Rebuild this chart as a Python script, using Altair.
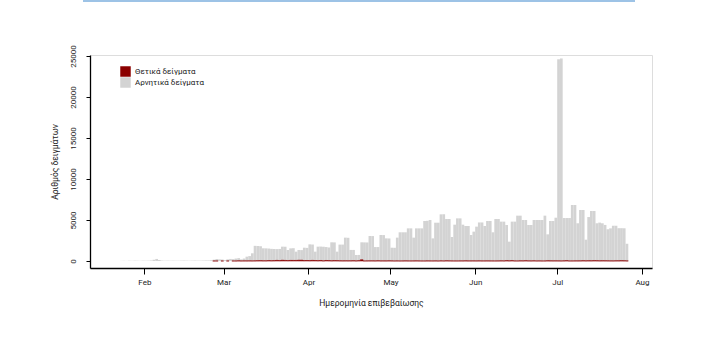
import altair as alt
import pandas as pd

# ---- data (daily, starting 2020-01-21) ----
start_date = "2020-01-21"
pos_label = "Θετικά δείγματα"
neg_label = "Αρνητικά δείγματα"

total_jan = [0, 0, 10, 20, 10, 30, 20, 40, 30, 20, 40]
total_feb = [30, 40, 60, 150, 250, 120, 50, 30, 40, 30, 40, 30, 30, 40, 50, 40, 30, 40, 50, 40,
             40, 50, 60, 60, 90, 160, 250, 200, 180]
total_mar = [120, 200, 250, 230, 300, 350, 200, 300, 530, 600, 940, 1850, 1830, 1800, 1550, 1540,
             1520, 1480, 1460, 1450, 1470, 1750, 1740, 1340, 1540, 1560, 1140, 1340, 1330, 1620, 1600]
total_apr = [2030, 2010, 1140, 1750, 1760, 1740, 1700, 1650, 2280, 2270, 1140, 2000, 2000, 2850, 2830,
             1350, 1350, 730, 740, 2280, 2270, 2260, 3050, 3040, 1700, 1700, 3170, 3160, 2760, 2750]
total_may = [1620, 1610, 2850, 3500, 3500, 3500, 3980, 3980, 2850, 3980, 3980, 3980, 4880, 4900, 5000,
             2760, 4670, 4670, 5690, 5700, 5120, 5120, 2930, 4430, 5200, 5200, 4430, 4270, 4270, 3170, 3580]
total_jun = [4190, 4700, 4700, 4270, 4880, 4880, 3500, 5120, 5120, 4800, 4800, 4390, 2360, 4800, 4800,
             5530, 5530, 5000, 5000, 4390, 4390, 5000, 5000, 5000, 5000, 5530, 3250, 4880, 4880, 5280]
total_jul = [24600, 24700, 5240, 5240, 5240, 6830, 6830, 4600, 6220, 6220, 2600, 5360, 6100, 6100, 4600,
             4680, 4600, 4400, 3870, 3980, 4300, 4300, 4000, 4000, 3990, 2100]

pos_jan = [0] * 11
pos_feb = [0] * 25 + [1, 2, 0, 1]
pos_mar = [0, 2, 0, 2, 3, 21, 5, 13, 11, 16, 9, 18, 33, 38, 23, 21, 49, 31, 46, 77, 53, 94, 71, 52,
           73, 70, 72, 95, 102, 53, 60]
pos_apr = [49, 74, 60, 43, 62, 20, 62, 48, 27, 46, 41, 25, 17, 21, 20, 21, 35, 13, 40, 156, 2, 11, 15,
           17, 11, 27, 11, 12, 10, 21]
pos_may = [14, 3, 11, 2, 7, 15, 8, 4, 10, 16, 9, 2, 2, 13, 9, 5, 12, 1, 18, 5, 26, 16, 8, 4, 4, 10, 9,
           21, 11, 11, 13]
pos_jun = [8, 15, 7, 8, 12, 9, 7, 4, 10, 19, 11, 41, 22, 44, 7, 4, 20, 16, 35, 14, 9, 21, 4, 11, 3, 5,
           27, 20, 14, 16]
pos_jul = [13, 4, 19, 39, 4, 5, 12, 13, 16, 33, 17, 30, 25, 42, 34, 22, 30, 26, 19, 13, 10, 21, 23, 36,
           28, 10]

y_ticks = [0, 5000, 10000, 15000, 20000, 25000]

totals = total_jan + total_feb + total_mar + total_apr + total_may + total_jun + total_jul
positives = pos_jan + pos_feb + pos_mar + pos_apr + pos_may + pos_jun + pos_jul
dates = pd.date_range(start_date, periods=len(totals), freq="D")

# stacked segments: positives at the bottom, negatives on top
rows = []
for d, t, p in zip(dates, totals, positives):
    s = d.strftime("%Y-%m-%d")
    e = (d + pd.Timedelta(days=1)).strftime("%Y-%m-%d")
    rows.append({"date": s, "end": e, "type": pos_label, "lo": 0, "hi": p})
    rows.append({"date": s, "end": e, "type": neg_label, "lo": p, "hi": t})
df = pd.DataFrame(rows)

FONT = "Roboto"

x_scale = alt.Scale(
    type="utc",
    domain=[alt.DateTime(year=2020, month=1, date=12, hours=3, utc=True),
            alt.DateTime(year=2020, month=8, date=4, hours=16, utc=True)],
)
x_vals = [alt.DateTime(year=2020, month=m, date=1, utc=True) for m in range(2, 9)]

color_enc = alt.Color("type:N",
                      scale=alt.Scale(domain=[pos_label, neg_label], range=["#8B0000", "#D3D3D3"]),
                      legend=alt.Legend(orient="none", legendX=30, legendY=11, title=None,
                                        symbolType="square", symbolSize=110, symbolStrokeWidth=0,
                                        labelFont=FONT, labelFontSize=8, labelColor="#222",
                                        rowPadding=0, padding=0, labelOffset=4))

base = alt.Chart(df).encode(
    x=alt.X("date:T", scale=x_scale,
            axis=alt.Axis(values=x_vals, labelExpr="utcFormat(datum.value, '%b')", grid=False,
                          tickSize=6, tickColor="black", domainColor="black", domainWidth=1.3,
                          tickWidth=1, labelFont=FONT, labelFontSize=8, labelColor="#222",
                          labelPadding=4, labelFlush=False,
                          title="Ημερομηνία επιβεβαίωσης", titleFont=FONT, titleFontSize=8.5,
                          titleFontWeight="normal", titleColor="#222", titlePadding=12)),
    x2="end:T",
    y=alt.Y("hi:Q",
            scale=alt.Scale(domain=[-854, 25122], nice=False, zero=False),
            axis=alt.Axis(values=y_ticks, format="d", grid=False, labelAngle=270, labelAlign="center",
                          labelBaseline="bottom", tickSize=4, tickColor="black",
                          domainColor="black", domainWidth=1.3, labelFont=FONT, labelFontSize=8,
                          labelColor="#222", labelPadding=9,
                          title="Αριθμός δειγμάτων", titleFont=FONT, titleFontSize=8.5,
                          titleFontWeight="normal", titleColor="#222", titlePadding=10)),
    y2="lo:Q",
    color=color_enc,
)

neg_bars = base.transform_filter(alt.datum.type == neg_label).mark_bar()
pos_bars = base.transform_filter(
    (alt.datum.type == pos_label) & (alt.datum.hi > 0)
).mark_bar(stroke="#8B0000", strokeWidth=0.7, strokeOpacity=0.8)

topline = alt.Chart(pd.DataFrame({"a": [0]})).mark_rule(color="#9DC3E6", strokeWidth=2).encode(
    x=alt.value(-7), x2=alt.value(545), y=alt.value(-54)
)

chart = alt.layer(neg_bars, pos_bars, topline).properties(
    width=562,
    height=213,
    padding={"left": 90, "top": 55, "right": 64, "bottom": 79},
    autosize=alt.AutoSizeParams(type="none"),
    title=alt.TitleParams("Διάγραμμα 5: Ελεγχθέντα και θετικά δείγματα COVID-19", font=FONT,
                          fontSize=9.5, fontWeight="bold", anchor="middle", offset=20,
                          color="#111"),
).configure_view(stroke=None).configure(background="white")

chart.save("out.html", embed_options={"renderer": "svg", "actions": False})
